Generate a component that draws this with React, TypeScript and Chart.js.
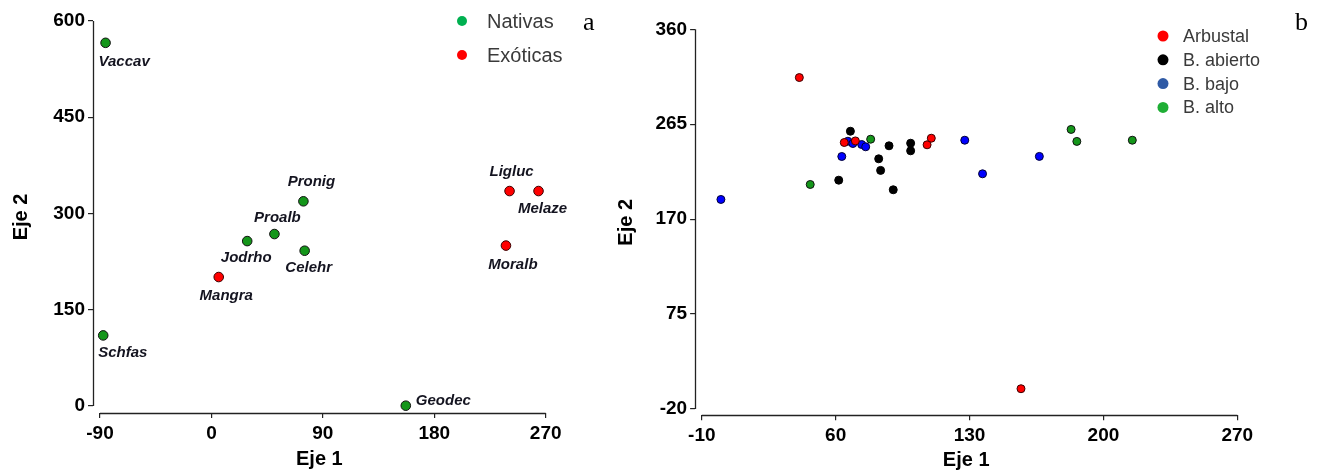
import React, { useEffect, useRef } from 'react';
import { Chart, registerables } from 'chart.js';

Chart.register(...registerables);

const FONT = 'Arial, "Liberation Sans", Helvetica, sans-serif';
const SERIF = '"Liberation Serif", "Times New Roman", serif';

// ---------- Panel a data ----------
const speciesNativas = ['Vaccav', 'Pronig', 'Proalb', 'Jodrho', 'Celehr', 'Schfas', 'Geodec'];
const eje1Nativas = [-85.5, 74.3, 50.9, 28.9, 75.3, -87.4, 157];
const eje2Nativas = [566, 319, 268, 257, 242, 110, 0.5];

const speciesExoticas = ['Mangra', 'Moralb', 'Ligluc', 'Melaze'];
const eje1Exoticas = [5.9, 237.9, 240.8, 264.2];
const eje2Exoticas = [201, 250, 335, 335];

const xTicksA = [-90, 0, 90, 180, 270];
const yTicksA = [0, 150, 300, 450, 600];
const legendA = ['Nativas', 'Exóticas'];

// ---------- Panel b data ----------
const eje1Arbustal = [41, 64.5, 70.3, 107.8, 110, 156.9];
const eje2Arbustal = [311.7, 246.7, 248.3, 244.4, 251, 0.3];

const eje1Abierto = [61.6, 67.7, 87.9, 82.5, 83.5, 90.1, 99.2, 99.2];
const eje2Abierto = [209, 258, 243.4, 230.4, 218.8, 199.4, 246, 238.4];

const eje1Bajo = [0, 63.2, 66.4, 69, 73.6, 75.7, 127.5, 136.8, 166.5];
const eje2Bajo = [189.7, 232.7, 248, 245.7, 244.7, 242.4, 249, 215.4, 232.8];

const eje1Alto = [46.7, 78.3, 183.1, 186.1, 215.1];
const eje2Alto = [204.7, 250, 259.8, 247.8, 249];

const xTicksB = [-10, 60, 130, 200, 270];
const yTicksB = [-20, 75, 170, 265, 360];
const legendB = ['Arbustal', 'B. abierto', 'B. bajo', 'B. alto'];

// ---------- styles ----------
const labelStyle: Record<string, [number, number, CanvasTextAlign]> = {
  Vaccav: [-7, 19, 'left'],
  Pronig: [8, -19, 'center'],
  Proalb: [3, -16, 'center'],
  Jodrho: [-1, 16.5, 'center'],
  Celehr: [4, 17.5, 'center'],
  Schfas: [-5, 17.5, 'left'],
  Geodec: [10, -5, 'left'],
  Mangra: [7.5, 19, 'center'],
  Moralb: [7, 19.5, 'center'],
  Ligluc: [2, -19.5, 'center'],
  Melaze: [4, 18, 'center'],
};

const toPts = (xs: number[], ys: number[]) => xs.map((x, i) => ({ x, y: ys[i] }));

function axisLinesPlugin(xFrom: number, xTo: number, yFrom: number, yTo: number) {
  return {
    id: 'axisLines',
    beforeDatasetsDraw(chart: any) {
      const { ctx, chartArea, scales } = chart;
      ctx.save();
      ctx.strokeStyle = '#222';
      ctx.lineWidth = 1.3;
      const lx = Math.round(chartArea.left) + 0.5;
      ctx.beginPath();
      ctx.moveTo(lx, scales.y.getPixelForValue(yTo));
      ctx.lineTo(lx, scales.y.getPixelForValue(yFrom));
      ctx.stroke();
      const by = Math.round(chartArea.bottom) + 0.5;
      ctx.beginPath();
      ctx.moveTo(scales.x.getPixelForValue(xFrom), by);
      ctx.lineTo(scales.x.getPixelForValue(xTo), by);
      ctx.stroke();
      ctx.restore();
    },
  };
}

function legendPlugin(
  labels: string[],
  colors: string[],
  dotX: number,
  y0: number,
  dy: number,
  textX: number,
  fontSize: number,
  r: number,
  letter: string,
  letterX: number,
) {
  return {
    id: 'customLegend',
    afterDraw(chart: any) {
      const { ctx } = chart;
      ctx.save();
      labels.forEach((lab, i) => {
        const y = y0 + i * dy;
        ctx.beginPath();
        ctx.fillStyle = colors[i];
        ctx.arc(dotX, y, r, 0, Math.PI * 2);
        ctx.fill();
        ctx.fillStyle = '#3a3a3a';
        ctx.font = `${fontSize}px ${FONT}`;
        ctx.textAlign = 'left';
        ctx.textBaseline = 'middle';
        ctx.fillText(lab, textX, y + 1);
      });
      ctx.fillStyle = '#000';
      ctx.font = `26px ${SERIF}`;
      ctx.textAlign = 'left';
      ctx.textBaseline = 'alphabetic';
      ctx.fillText(letter, letterX, 30);
      ctx.restore();
    },
  };
}

const pointLabelPlugin = {
  id: 'pointLabels',
  afterDatasetsDraw(chart: any) {
    const { ctx } = chart;
    ctx.save();
    ctx.font = `italic bold 15px ${FONT}`;
    ctx.fillStyle = '#141420';
    ctx.textBaseline = 'middle';
    chart.data.datasets.forEach((ds: any, di: number) => {
      const meta = chart.getDatasetMeta(di);
      meta.data.forEach((el: any, j: number) => {
        const name = ds.names[j];
        const st = labelStyle[name] || [0, 16, 'center'];
        ctx.textAlign = st[2];
        ctx.fillText(name, el.x + st[0], el.y + st[1]);
      });
    });
    ctx.restore();
  },
};

function scaleOpts(
  min: number,
  max: number,
  ticks: number[],
  title: string,
  axis: 'x' | 'y',
  size: number,
  titlePad: number,
) {
  return {
    type: 'linear',
    min,
    max,
    afterBuildTicks: (s: any) => {
      s.ticks = ticks.map((v) => ({ value: v }));
    },
    afterFit: (s: any) => {
      if (axis === 'x') s.height = size;
      else s.width = size;
    },
    grid: {
      display: true,
      drawOnChartArea: false,
      drawTicks: true,
      tickLength: 5,
      color: '#222',
      lineWidth: 1.2,
    },
    border: { display: false },
    ticks: {
      font: { family: FONT, size: 19, weight: 'bold' },
      color: '#000',
      padding: axis === 'x' ? 4 : 3,
      autoSkip: false,
      maxRotation: 0,
      minRotation: 0,
    },
    title: {
      display: true,
      text: title,
      color: '#000',
      font: { family: FONT, size: 20, weight: 'bold' },
      padding: axis === 'x' ? { top: 0, bottom: titlePad } : { top: titlePad, bottom: 0 },
    },
  };
}

export default function App() {
  const refA = useRef<HTMLCanvasElement | null>(null);
  const refB = useRef<HTMLCanvasElement | null>(null);

  useEffect(() => {
    const chartA = new Chart(refA.current as HTMLCanvasElement, {
      type: 'scatter',
      data: {
        datasets: [
          {
            label: legendA[0],
            names: speciesNativas,
            data: toPts(eje1Nativas, eje2Nativas),
            backgroundColor: '#14961a',
            borderColor: '#111',
            borderWidth: 1,
            pointRadius: 4.8,
            clip: false,
          } as any,
          {
            label: legendA[1],
            names: speciesExoticas,
            data: toPts(eje1Exoticas, eje2Exoticas),
            backgroundColor: '#ff0000',
            borderColor: '#3a0000',
            borderWidth: 1,
            pointRadius: 4.8,
            clip: false,
          } as any,
        ],
      },
      options: {
        animation: false,
        responsive: false,
        maintainAspectRatio: false,
        events: [],
        layout: { padding: { left: 0, top: 21, right: 64.3, bottom: 0 } },
        plugins: { legend: { display: false }, tooltip: { enabled: false } },
        scales: {
          x: scaleOpts(-95.65, 270, xTicksA, 'Eje 1', 'x', 59, 1),
          y: scaleOpts(-10.9, 600, yTicksA, 'Eje 2', 'y', 93, 9),
        } as any,
      },
      plugins: [
        axisLinesPlugin(-90, 270, 0, 600),
        pointLabelPlugin,
        legendPlugin(legendA, ['#00b050', '#ff0000'], 462, 21, 34, 487, 20, 5, 'a', 583),
      ],
    } as any);

    const chartB = new Chart(refB.current as HTMLCanvasElement, {
      type: 'scatter',
      data: {
        datasets: [
          {
            label: legendB[0],
            data: toPts(eje1Arbustal, eje2Arbustal),
            backgroundColor: '#ff0000',
            borderColor: '#3a0000',
          },
          {
            label: legendB[1],
            data: toPts(eje1Abierto, eje2Abierto),
            backgroundColor: '#000000',
            borderColor: '#000000',
          },
          {
            label: legendB[2],
            data: toPts(eje1Bajo, eje2Bajo),
            backgroundColor: '#0000ff',
            borderColor: '#000033',
          },
          {
            label: legendB[3],
            data: toPts(eje1Alto, eje2Alto),
            backgroundColor: '#14961a',
            borderColor: '#111',
          },
        ].map((d) => ({ ...d, borderWidth: 1, pointRadius: 4, clip: false })),
      },
      options: {
        animation: false,
        responsive: false,
        maintainAspectRatio: false,
        events: [],
        layout: { padding: { left: 0, top: 29.3, right: 83.7, bottom: 0 } },
        plugins: { legend: { display: false }, tooltip: { enabled: false } },
        scales: {
          x: scaleOpts(-13.5, 270, xTicksB, 'Eje 1', 'x', 56.7, 0),
          y: scaleOpts(-26.3, 360, yTicksB, 'Eje 2', 'y', 85.1, 4),
        } as any,
      },
      plugins: [
        axisLinesPlugin(-10, 270, -20, 360),
        legendPlugin(
          legendB,
          ['#ff0000', '#000000', '#2f5aa5', '#1fae35'],
          553,
          36,
          23.8,
          573,
          18,
          5.5,
          'b',
          685,
        ),
      ],
    } as any);

    return () => {
      chartA.destroy();
      chartB.destroy();
    };
  }, []);

  return (
    <div
      style={{
        position: 'absolute',
        left: 0,
        top: 0,
        width: 1321,
        height: 472,
        background: '#fff',
        overflow: 'hidden',
      }}
    >
      <canvas
        ref={refA}
        width={610}
        height={472}
        style={{ position: 'absolute', left: 0, top: 0, width: 610, height: 472 }}
      />
      <canvas
        ref={refB}
        width={711}
        height={472}
        style={{ position: 'absolute', left: 610, top: 0, width: 711, height: 472 }}
      />
    </div>
  );
}
